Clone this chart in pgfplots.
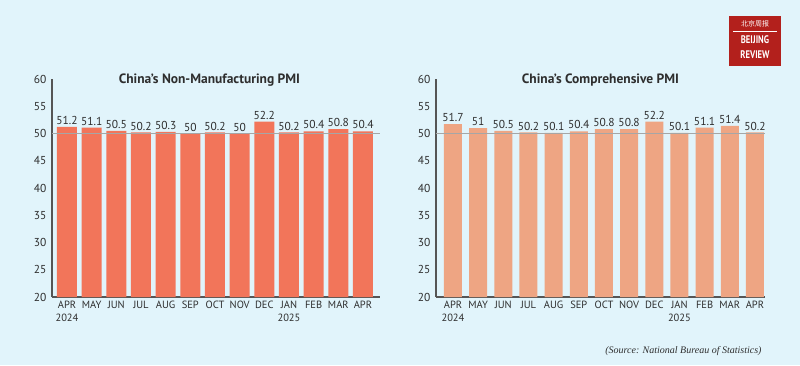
\documentclass[border=0pt]{standalone}
\usepackage{pgfplots}
\pgfplotsset{compat=1.18}
\usepackage{fontspec}
\setmainfont{PT Sans}
\newfontfamily\srcfont{Liberation Serif Italic}
\newfontfamily\cjk{Noto Sans CJK SC}
\definecolor{bg}{HTML}{E1F4FB}
\definecolor{barA}{HTML}{F2755A}
\definecolor{barB}{HTML}{EEA583}
\definecolor{axisc}{HTML}{555555}
\definecolor{txt}{HTML}{2E2E2E}
\definecolor{logored}{HTML}{B3201C}
\pgfplotsset{
  pmi/.style={
    scale only axis, height=218pt,
    ymin=20, ymax=60, ytick={20,25,...,60},
    axis x line=bottom, axis y line=left,
    axis line style={-, axisc, line width=1.6pt},
    major tick length=0pt,
    xtick={0,...,12},
    xticklabels={APR\\2024,MAY,JUN,JUL,AUG,SEP,OCT,NOV,DEC,JAN\\2025,FEB,MAR,APR},
    x tick label style={align=center, font=\fontsize{10.5}{13}\selectfont, text=txt, inner sep=2pt, anchor=north, yshift=-2pt},
    y tick label style={font=\fontsize{11.5}{13}\selectfont, text=txt, xshift=-2pt},
    /pgf/number format/assume math mode=true,
    ybar, bar shift=0pt,
    nodes near coords,
    every node near coord/.append style={font=\fontsize{11.5}{13}\selectfont, text=txt, inner sep=2pt},
    title style={font=\bfseries\fontsize{13.5}{15}\selectfont, text=txt},
  }
}
\begin{document}
\begin{tikzpicture}
\fill[bg] (0pt,0pt) rectangle (800pt,365pt);
% left chart
\begin{axis}[pmi, at={(52pt,68pt)}, anchor=south west, width=328pt,
  xmin=-0.608, xmax=12.69, bar width=20pt,
  title={China's Non-Manufacturing PMI}, title style={at={(0.48,1)}, anchor=north, yshift=3pt}]
\addplot[fill=barA, draw=none] coordinates {
(0,51.2) (1,51.1) (2,50.5) (3,50.2) (4,50.3) (5,50) (6,50.2) (7,50) (8,52.2) (9,50.2) (10,50.4) (11,50.8) (12,50.4)};
\draw[gray!70, line width=1.5pt] (axis cs:-0.608,50) -- (axis cs:12.69,50);
\end{axis}
% right chart
\begin{axis}[pmi, at={(436pt,68pt)}, anchor=south west, width=329pt,
  xmin=-0.675, xmax=12.4, bar width=18pt,
  title={China's Comprehensive PMI}, title style={at={(0.5,1)}, anchor=north, yshift=3pt}]
\addplot[fill=barB, draw=none] coordinates {
(0,51.7) (1,51) (2,50.5) (3,50.2) (4,50.1) (5,50.4) (6,50.8) (7,50.8) (8,52.2) (9,50.1) (10,51.1) (11,51.4) (12,50.2)};
\draw[gray!70, line width=1.5pt] (axis cs:-0.675,50) -- (axis cs:12.4,50);
\end{axis}
% source
\node[anchor=east, font=\srcfont\fontsize{10}{12}\selectfont, text=txt] at (765pt,14pt) {(Source: National Bureau of Statistics)};
% logo
\fill[logored] (729pt,299pt) rectangle (781pt,349pt);
\node[text=white, font=\cjk\fontsize{7}{8}\selectfont] at (755pt,341pt) {北京周报};
\draw[white, line width=0.8pt] (733pt,334pt) -- (777pt,334pt);
\node[text=white, font=\bfseries\fontsize{11}{11}\selectfont, xscale=0.78] at (755pt,325pt) {BEIJING};
\node[text=white, font=\bfseries\fontsize{11}{11}\selectfont, xscale=0.78] at (755pt,310pt) {REVIEW};
\end{tikzpicture}
\end{document}
